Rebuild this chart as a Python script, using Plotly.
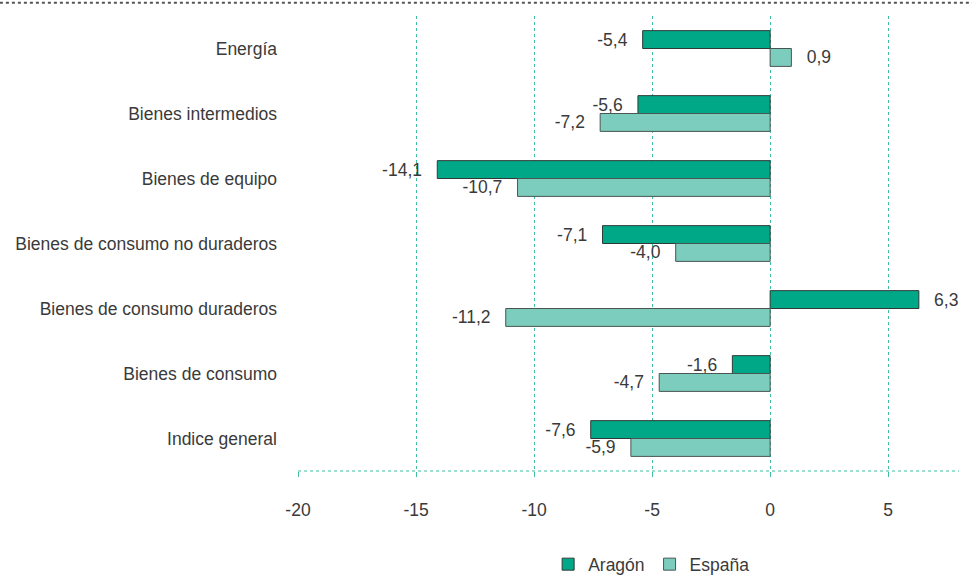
import plotly.graph_objects as go

# Datos: variación interanual (%) de la producción industrial por destino económico
categorias = ['Energía', 'Bienes intermedios', 'Bienes de equipo',
              'Bienes de consumo no duraderos', 'Bienes de consumo duraderos',
              'Bienes de consumo', 'Indice general']
aragon = [-5.4, -5.6, -14.1, -7.1, 6.3, -1.6, -7.6]
espana = [0.9, -7.2, -10.7, -4.0, -11.2, -4.7, -5.9]
x_ticks = [-20, -15, -10, -5, 0, 5]

COLOR_ARAGON = '#00A887'
COLOR_ESPANA = '#7DCDBE'
GRID = '#3DBFA0'
TEXTO = '#3a3a3a'
FUENTE = 'Liberation Sans, Arial, sans-serif'
PAD = '\u2002\u2009'
TAM = 17.5


def etiquetas(valores):
    # formato español con coma decimal, separado del extremo de la barra
    salida = []
    for v in valores:
        t = f'{v:.1f}'.replace('.', ',')
        salida.append(t + PAD if v < 0 else PAD + t)
    return salida


fig = go.Figure()

fig.add_trace(go.Bar(
    y=categorias, x=aragon, name='Aragón', orientation='h',
    marker=dict(color=COLOR_ARAGON, line=dict(color='#2f3a36', width=1)),
    text=etiquetas(aragon), textposition='outside',
    textfont=dict(size=TAM, color=TEXTO), cliponaxis=False,
))
fig.add_trace(go.Bar(
    y=categorias, x=espana, name='España', orientation='h',
    marker=dict(color=COLOR_ESPANA, line=dict(color='#4a5552', width=1)),
    text=etiquetas(espana), textposition='outside',
    textfont=dict(size=TAM, color=TEXTO), cliponaxis=False,
))

# línea punteada superior y eje x punteado
fig.add_shape(type='line', xref='paper', yref='paper', x0=-0.451, x1=1.02, y0=1.029, y1=1.029,
              line=dict(color='#555555', width=2, dash='dot'))
fig.add_shape(type='line', xref='paper', yref='paper', x0=0, x1=1, y0=0, y1=0,
              line=dict(color=GRID, width=1, dash='dot'))

fig.update_layout(
    width=972, height=575,
    margin=dict(l=298, r=13, t=16, b=104, autoexpand=False),
    paper_bgcolor='white', plot_bgcolor='white',
    barmode='group', bargap=0.45, bargroupgap=0,
    uniformtext=dict(minsize=TAM, mode='show'),
    font=dict(family=FUENTE, size=TAM, color=TEXTO),
    xaxis=dict(
        range=[-20, 8], tickvals=x_ticks, ticktext=[str(v) for v in x_ticks],
        showgrid=True, gridcolor=GRID, griddash='dot',
        gridwidth=1, zeroline=False, showline=False, ticks='outside', ticklen=5,
        tickcolor=GRID, ticklabelstandoff=18, tickfont=dict(size=TAM, color=TEXTO),
        automargin=False,
    ),
    yaxis=dict(
        autorange='reversed', showgrid=False, zeroline=False, showline=False,
        ticks='', ticklabelstandoff=20, tickfont=dict(size=TAM, color=TEXTO),
        automargin=False,
    ),
    legend=dict(orientation='h', x=0.535, xanchor='center', y=-0.205, yanchor='middle',
                font=dict(size=TAM, color=TEXTO), itemwidth=30, traceorder='normal'),
    showlegend=True,
)

fig.write_html('out.html', config={'displayModeBar': False},
               post_script="document.body.style.margin='0';")
